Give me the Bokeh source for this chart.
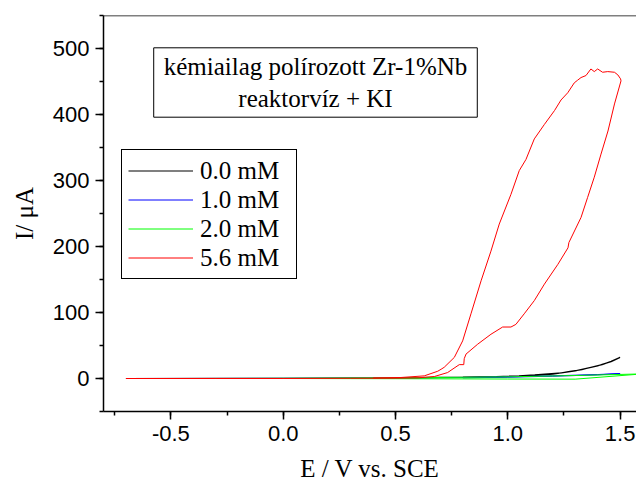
from bokeh.plotting import figure
from bokeh.models import FixedTicker, PrintfTickFormatter, Label, Span, Range1d
from bokeh.embed import file_html
from bokeh.resources import INLINE

# ---------------- data ----------------
# 0.0 mM KI
e_00 = [-0.70, -0.30, 0.00, 0.30, 0.50, 0.80, 0.95, 1.05, 1.12, 1.18, 1.24, 1.27, 1.33, 1.37, 1.42, 1.46, 1.50,
        1.46, 1.42, 1.40, 1.30, 1.20, 1.10, 1.00, 0.80]
i_00 = [0.0, 0.1, 0.3, 0.6, 1.0, 2.0, 3.0, 4.0, 5.5, 7.0, 8.5, 10.5, 13.5, 17.0, 21.0, 26.0, 32.0,
        25.5, 21.5, 19.0, 11.5, 6.5, 4.0, 3.0, 1.8]
# 1.0 mM KI
e_10 = [-0.70, -0.30, 0.00, 0.50, 0.80, 1.00, 1.20, 1.30, 1.40, 1.50, 1.40, 1.20, 1.00, 0.80]
i_10 = [0.0, 0.0, 0.2, 0.5, 1.5, 2.5, 4.0, 5.0, 6.0, 7.5, 5.5, 3.5, 2.0, 1.0]
# 2.0 mM KI
e_20 = [-0.70, -0.30, 0.00, 0.50, 0.80, 1.00, 1.30, 1.60, 1.30, 1.00, 0.50, 0.00]
i_20 = [0.0, 0.0, 0.3, 1.0, 1.8, 2.5, 4.5, 7.0, -1.0, -0.8, -0.3, 0.0]
# 5.6 mM KI (forward then reverse scan)
e_56 = [-0.70, -0.30, 0.00, 0.30, 0.50, 0.60, 0.673, 0.732, 0.784, 0.804, 0.806, 0.814, 0.866, 0.925, 0.977,
        1.014, 1.036, 1.073, 1.118, 1.163, 1.223, 1.268, 1.272, 1.326, 1.355, 1.385, 1.415, 1.446, 1.475, 1.504,
        1.502, 1.490, 1.475, 1.445, 1.422, 1.400, 1.385, 1.370, 1.348, 1.326, 1.311, 1.296, 1.267, 1.237,
        1.208, 1.163, 1.118, 1.081, 1.051, 1.014, 0.962, 0.925, 0.881, 0.836, 0.799, 0.762, 0.717, 0.703,
        0.688, 0.628, 0.524, 0.40]
i_56 = [0.0, 0.0, 0.0, 0.3, 0.5, 1.0, 3.0, 9.0, 21.0, 21.0, 30.0, 37.0, 52.0, 67.0, 78.0,
        78.0, 82.0, 98.0, 118.0, 143.0, 173.0, 198.0, 206.0, 244.0, 274.0, 305.0, 340.0, 375.0, 416.0, 451.0,
        454.0, 460.0, 464.0, 465.0, 464.0, 469.0, 465.0, 469.0, 459.0, 456.0, 452.0, 448.0, 433.0, 422.0,
        406.0, 385.0, 363.0, 332.0, 315.0, 279.0, 234.0, 193.0, 148.0, 98.0, 57.0, 32.0, 17.0, 14.0,
        11.0, 4.0, 1.5, 0.8]

series_labels = ["0.0 mM", "1.0 mM", "2.0 mM", "5.6 mM"]
series_colors = ["#000000", "#0000ff", "#00ff00", "#ff0000"]

x_major = [-0.5, 0.0, 0.5, 1.0, 1.5]
x_minor = [-0.75, -0.5, -0.25, 0.0, 0.25, 0.5, 0.75, 1.0, 1.25, 1.5]
y_major = [0, 100, 200, 300, 400, 500]
y_minor = [-50, 0, 50, 100, 150, 200, 250, 300, 350, 400, 450, 500, 550]

x_title = "E / V vs. SCE"
y_title = "I/ μA"
title_text = "kémiailag polírozott Zr-1%Nb\nreaktorvíz + KI"

# ---------------- figure ----------------
p = figure(width=636, height=484, output_backend="svg", toolbar_location=None,
           x_range=Range1d(-0.8, 1.573), y_range=Range1d(-50, 550),
           min_border_left=103, min_border_right=0, min_border_top=15, min_border_bottom=73)
p.outline_line_color = None
p.xgrid.visible = False
p.ygrid.visible = False
p.background_fill_color = "white"
p.border_fill_color = "white"

for ax in (p.xaxis[0], p.yaxis[0]):
    ax.axis_line_width = 1.5
    ax.axis_line_color = "black"
    ax.major_tick_line_width = 1.5
    ax.minor_tick_line_width = 1.5
    ax.major_tick_out = 8
    ax.major_tick_in = 0
    ax.minor_tick_out = 4
    ax.minor_tick_in = 0
    ax.major_label_text_font = "Liberation Sans"
    ax.major_label_text_font_size = "22px"
    ax.major_label_text_color = "black"
    ax.axis_label_text_font = "Liberation Serif"
    ax.axis_label_text_font_size = "25px"
    ax.axis_label_text_font_style = "normal"
    ax.axis_label_text_color = "black"

p.xaxis[0].ticker = FixedTicker(ticks=x_major, minor_ticks=x_minor)
p.xaxis[0].formatter = PrintfTickFormatter(format="%.1f")
p.xaxis[0].axis_label = x_title
p.xaxis[0].major_label_standoff = 6
p.xaxis[0].axis_label_standoff = 11

p.yaxis[0].ticker = FixedTicker(ticks=y_major, minor_ticks=y_minor)
p.yaxis[0].axis_label = y_title
p.yaxis[0].major_label_standoff = 6
p.yaxis[0].axis_label_standoff = 12

# top frame line
p.add_layout(Span(location=550, dimension="width", line_color="black", line_width=1.5))

xs = [e_00, e_10, e_20, e_56]
ys = [i_00, i_10, i_20, i_56]
for x, y, c, lab in zip(xs, ys, series_colors, series_labels):
    w = 1.2 if c == "#000000" else 1.0
    p.line(x, y, line_color=c, line_width=w, legend_label=lab)

lg = p.legend[0]
lg.location = (18, 132)
lg.margin = 0
lg.padding = 6
lg.spacing = 0
lg.glyph_height = 29
lg.glyph_width = 65
lg.label_height = 29
lg.label_width = 90
lg.label_standoff = 7
lg.label_text_font = "Liberation Serif"
lg.label_text_font_size = "25px"
lg.label_text_color = "black"
lg.border_line_color = "black"
lg.border_line_width = 1
lg.border_line_alpha = 1.0
lg.background_fill_color = "white"
lg.background_fill_alpha = 1.0

title_box = Label(x=212, y=329, x_units="screen", y_units="screen", text=title_text,
                  text_align="center", text_baseline="middle",
                  text_font="Liberation Serif", text_font_size="25px", text_color="black",
                  border_line_color="black", border_line_width=1,
                  background_fill_color="white", padding=(10, 5))
p.add_layout(title_box)

open("out.html", "w").write(file_html(p, INLINE))
